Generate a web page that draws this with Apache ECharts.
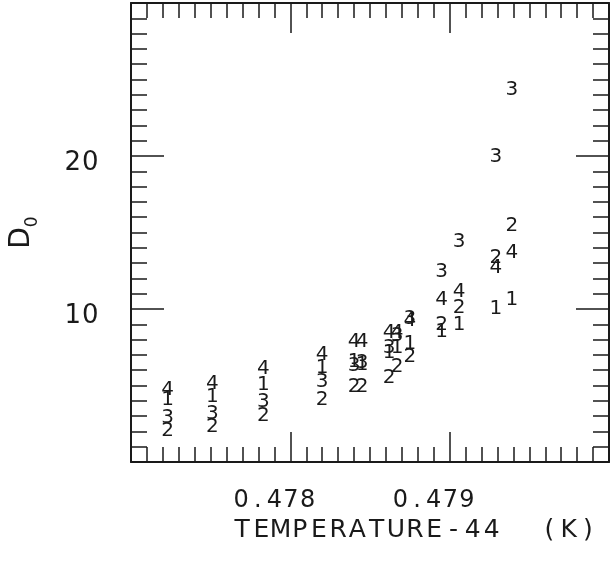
<!DOCTYPE html>
<html>
	<head>
		<meta charset="utf-8">
		<title>D0 vs temperature</title>
		<script src="https://cdn.jsdelivr.net/npm/echarts@6.0.0/dist/echarts.min.js"></script>
		<style>
			html, body { margin: 0; padding: 0; background: #fff; }
		</style>
	</head>
	<body>
		<div id="chart" style="width:616px;height:562px;"></div>
		<script>
			// temperatures of the columns (T - 44 K)
			var temps = [0.47723, 0.47751, 0.47783, 0.47820, 0.47840, 0.47845, 0.47862, 0.47867, 0.47875, 0.47895, 0.47906, 0.47929, 0.47939];
			// D0 for each curve
			var d1 = [4.05, 4.25, 5.03, 6.14, 6.54, 6.34, 7.12, 7.45, 7.71, 8.50, 8.95, 10.00, 10.59];
			var d2 = [2.03, 2.29, 3.01, 4.05, 4.90, 4.90, 5.49, 6.21, 6.86, 8.95, 10.07, 13.33, 15.42];
			var d3 = [2.88, 3.14, 3.92, 5.23, 6.27, 6.47, 7.45, 8.24, 9.35, 12.42, 14.38, 19.93, 24.31];
			var d4 = [4.71, 5.10, 6.08, 6.99, 7.84, 7.84, 8.43, 8.43, 9.22, 10.59, 11.11, 12.68, 13.66];
			var seriesNames = ['1', '2', '3', '4'];
			var xTickLabels = ['0.478', '0.479'];
			var yTickLabels = ['10', '20'];

			var font = 'DejaVu Sans';
			var ink = '#1a1a1a';

			// draw each character in its own fixed-width cell, like the plotter font
			function spaced(str) {
				return str.split('').map(function(c) {
					return '{c|' + c + '}';
				}).join('');
			}

			function pairs(ys) {
				return ys.map(function(y, i) {
					return [temps[i], y];
				});
			}

			var chart = echarts.init(document.getElementById('chart'));

			var tickLine = { color: ink, width: 1.5 };
			function xAxis(pos, withLabels) {
				return {
					type: 'value',
					position: pos,
					min: 0.477,
					max: 0.480,
					interval: 0.001,
					axisLine: { show: true, onZero: false, lineStyle: { color: ink, width: 2 } },
					axisTick: { show: true, inside: true, length: 30, lineStyle: tickLine },
					minorTick: { show: true, splitNumber: 10, length: 15, lineStyle: tickLine },
					splitLine: { show: false },
					axisLabel: {
						show: withLabels,
						margin: 27,
						padding: [0, 32, 0, 0],
						formatter: function(v) {
							var s = v.toFixed(3);
							return xTickLabels.indexOf(s) >= 0 ? spaced(s) : '';
						},
						rich: { c: { width: 16.6, align: 'center', fontSize: 24, fontFamily: font, color: ink } }
					}
				};
			}
			function yAxis(pos, withLabels) {
				return {
					type: 'value',
					position: pos,
					min: 0,
					max: 30,
					interval: 10,
					axisLine: { show: true, onZero: false, lineStyle: { color: ink, width: 2 } },
					axisTick: { show: true, inside: true, length: 33, lineStyle: tickLine },
					minorTick: { show: true, splitNumber: 10, length: 16, lineStyle: tickLine },
					splitLine: { show: false },
					axisLabel: {
						show: withLabels,
						margin: 32,
						padding: [14, 0, 0, 0],
						formatter: function(v) {
							var s = String(v);
							return yTickLabels.indexOf(s) >= 0 ? spaced(s) : '';
						},
						rich: { c: { width: 17.5, align: 'center', fontSize: 26, fontFamily: font, color: ink } }
					}
				};
			}

			var xBottom = xAxis('bottom', true);
			xBottom.name = spaced('TEMPERATURE-44  (K)');
			xBottom.nameLocation = 'middle';
			xBottom.nameGap = 49;
			xBottom.nameTextStyle = {
				padding: [0, 0, 0, 90],
				rich: { c: { width: 19.2, align: 'center', fontSize: 25, fontFamily: font, color: ink } }
			};

			var yLeft = yAxis('left', true);
			yLeft.name = '{d|D}{s|0}';
			yLeft.nameLocation = 'middle';
			yLeft.nameRotate = 90;
			yLeft.nameGap = 90;
			yLeft.nameTextStyle = {
				rich: {
					d: { fontSize: 28, lineHeight: 38, fontFamily: font, color: ink },
					s: { fontSize: 17, fontFamily: font, color: ink, verticalAlign: 'bottom' }
				}
			};

			var data = [d1, d2, d3, d4];
			var series = seriesNames.map(function(name, i) {
				return {
					name: name,
					type: 'scatter',
					symbolSize: 1,
					itemStyle: { color: 'rgba(0,0,0,0)', opacity: 1 },
					label: {
						show: true,
						position: 'inside',
						formatter: '{a}',
						fontSize: 20,
						fontFamily: font,
						color: ink,
						opacity: 1
					},
					emphasis: { disabled: true },
					data: pairs(data[i])
				};
			});

			var option = {
				backgroundColor: '#fff',
				animation: false,
				grid: { left: 130, right: 7, top: 3, bottom: 100 },
				xAxis: [xBottom, xAxis('top', false)],
				yAxis: [yLeft, yAxis('right', false)],
				series: series
			};
			chart.setOption(option);
		</script>
	</body>
</html>
